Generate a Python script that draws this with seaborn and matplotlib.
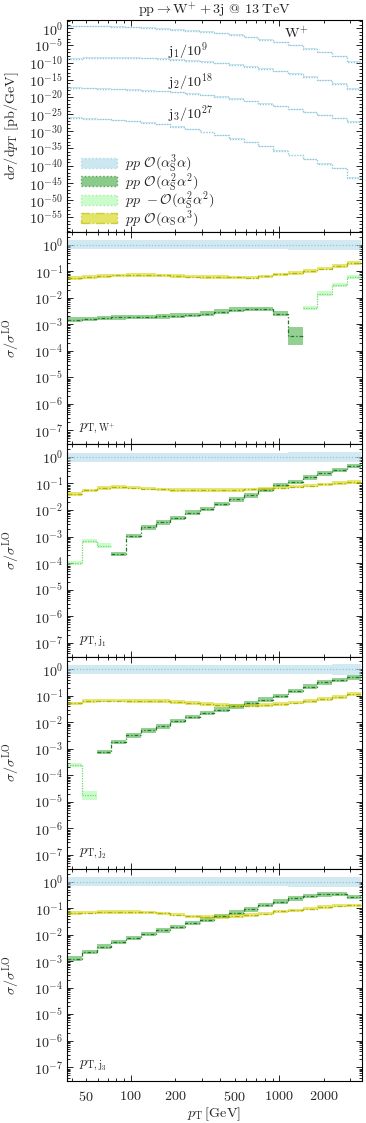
import numpy as np
import pandas as pd
import matplotlib
matplotlib.use("Agg")
import matplotlib.pyplot as plt
import seaborn as sns
from matplotlib.patches import Patch
from matplotlib.ticker import FixedLocator, FuncFormatter, NullFormatter

# ---------------- data ----------------
pT_edges = [37.4, 47.0, 59.0, 74.1, 93.1, 117, 147, 185, 232, 291, 366, 459, 577,
            724, 910, 1143, 1435, 1803, 2265, 2844, 3573]

# top panel: d sigma / d pT [pb/GeV] (unscaled)
top_W = [3.8, 4.0, 3.6, 2.95, 2.14, 1.38, 0.79, 0.42, 0.20, 0.089, 0.035, 0.011, 2.5e-3,
         4.5e-4, 7.1e-5, 1.0e-5, 1.1e-6, 1.0e-7, 7.1e-9, 1.6e-10]
top_j1 = [1.5, 2.5, 2.95, 2.95, 2.6, 2.0, 1.32, 0.78, 0.39, 0.18, 0.071, 0.025, 7.1e-3,
          1.6e-3, 3.2e-4, 5.0e-5, 7.1e-6, 7.9e-7, 7.1e-8, 2.8e-9]
top_j2 = [4.5, 3.5, 2.5, 1.8, 1.26, 0.71, 0.40, 0.20, 0.089, 0.035, 0.011, 2.8e-3, 6.3e-4,
          1.1e-4, 1.8e-5, 2.5e-6, 3.5e-7, 5.0e-8, 6.3e-9, 5.6e-10]
top_j3 = [8.5, 5.2, 3.0, 1.6, 0.79, 0.32, 0.10, 0.025, 4.0e-3, 6.3e-4, 7.9e-5, 6.3e-6, 6.3e-7,
          4.0e-8, 2.5e-9, 1.26e-10, 6.3e-12, 4.0e-13, 1.6e-14, 3.2e-17]
top_scale = [1.0, 1e-9, 1e-18, 1e-27]
top_names = ["W", "j1", "j2", "j3"]

N = None
# ratio panels
lo_blue = [0.66, 0.66, 0.66, 0.66, 0.66, 0.66, 0.66, 0.66, 0.66, 0.66, 0.66, 0.66, 0.66,
           0.66, 0.66, 0.65, 0.65, 0.64, 0.63, 0.62]
hi_blue = [1.45, 1.45, 1.45, 1.45, 1.45, 1.45, 1.45, 1.45, 1.45, 1.45, 1.45, 1.45, 1.46,
           1.46, 1.47, 1.48, 1.49, 1.50, 1.52, 1.55]

yel_W = [0.055, 0.060, 0.065, 0.070, 0.072, 0.072, 0.070, 0.066, 0.063, 0.062, 0.060, 0.058,
         0.057, 0.064, 0.076, 0.085, 0.100, 0.125, 0.157, 0.200]
dg_W = [0.0015, 0.0016, 0.0017, 0.0018, 0.0019, 0.0019, 0.0020, 0.0021, 0.0022, 0.0025,
        0.0030, 0.0036, 0.0038, 0.0037, 0.0025, 0.00037, N, N, N, N]
lg_W = [N, N, N, N, N, N, N, N, N, N, N, N, N, N, N, N, 0.0041, 0.0144, 0.031, 0.060]

yel_j1 = [0.040, 0.055, 0.068, 0.072, 0.070, 0.064, 0.060, 0.058, 0.057, 0.057, 0.058, 0.058,
          0.060, 0.064, 0.070, 0.076, 0.083, 0.092, 0.103, 0.115]
dg_j1 = [N, N, N, 2.2e-4, 1.05e-3, 2.2e-3, 3.4e-3, 5.1e-3, 7.9e-3, 0.011, 0.017, 0.025,
         0.036, 0.056, 0.087, 0.112, 0.17, 0.24, 0.32, 0.45]
lg_j1 = [1.0e-4, 7.0e-4, 4.6e-4, N, N, N, N, N, N, N, N, N, N, N, N, N, N, N, N, N]

yel_j2 = [0.052, 0.065, 0.066, 0.066, 0.065, 0.064, 0.062, 0.058, 0.053, 0.049, 0.045, 0.043,
          0.043, 0.045, 0.049, 0.055, 0.063, 0.075, 0.092, 0.115]
dg_j2 = [N, N, 7.6e-4, 1.8e-3, 3.2e-3, 5.0e-3, 7.1e-3, 0.0112, 0.0158, 0.0224, 0.030, 0.040,
         0.052, 0.071, 0.10, 0.15, 0.22, 0.32, 0.40, 0.49]
lg_j2 = [2.5e-4, 1.8e-5, N, N, N, N, N, N, N, N, N, N, N, N, N, N, N, N, N, N]

yel_j3 = [0.066, 0.068, 0.070, 0.071, 0.071, 0.069, 0.063, 0.057, 0.049, 0.046, 0.047, 0.050,
          0.054, 0.062, 0.075, 0.082, 0.095, 0.110, 0.125, 0.127]
dg_j3 = [1.26e-3, 2.25e-3, 3.5e-3, 5.3e-3, 7.5e-3, 0.0104, 0.0146, 0.0195, 0.0276, 0.0367,
         0.050, 0.067, 0.090, 0.13, 0.175, 0.23, 0.29, 0.33, 0.34, 0.26]
lg_j3 = [N] * 20

# scale-uncertainty factors (band half-width, multiplicative)
unc_yel = 1.17
unc_dg = 1.22
unc_lg = 1.2
# bins whose bands are read individually: (panel, series, bin) -> (low, high)
band_override = {("W", "dg", 15): (1.7e-4, 8.0e-4),
                 ("j2", "lg", 1): (1.2e-5, 2.6e-5)}

panel_names = ["W", "j1", "j2", "j3"]
panel_labels = [r"$p_{\mathrm{T,W^{+}}}$", r"$p_{\mathrm{T,j_1}}$",
                r"$p_{\mathrm{T,j_2}}$", r"$p_{\mathrm{T,j_3}}$"]
ratio_data = {"W": (yel_W, dg_W, lg_W), "j1": (yel_j1, dg_j1, lg_j1),
              "j2": (yel_j2, dg_j2, lg_j2), "j3": (yel_j3, dg_j3, lg_j3)}

# ---------------- style ----------------
sns.set_theme(style="ticks")
plt.rcParams["font.family"] = ["cmr10", "DejaVu Serif"]
plt.rcParams["mathtext.fontset"] = "cm"
plt.rcParams["axes.formatter.use_mathtext"] = True
plt.rcParams["axes.unicode_minus"] = False
FS = 10.2

c_blue_band, c_blue_line = "#add8e6", "#8ec8db"
c_dg_band, c_dg_line = "#3da83d", "#1f7a1f"
c_lg_band, c_lg_line = "#98fb98", "#6fd86f"
c_y_band, c_y_line = "#d2d200", "#b4b400"
ls_dg = (0, (3.0, 1.6, 1.0, 1.6))
ls_y = (0, (4.0, 1.6, 1.0, 1.6))

W_PX, H_PX = 366, 1123
fig = plt.figure(figsize=(W_PX / 100, H_PX / 100), dpi=100)
left_px, right_px = 67.3, 361.5
top_px, ph = 19.7, 212.3

def add_panel(k):
    t = top_px + ph * k
    return fig.add_axes([left_px / W_PX, 1 - (t + ph) / H_PX,
                         (right_px - left_px) / W_PX, ph / H_PX])

edges = np.array(pT_edges, float)

def style_axes(ax, show_x):
    ax.set_xscale("log")
    ax.set_yscale("log")
    ax.set_xlim(edges[0], edges[-1])
    for s in ax.spines.values():
        s.set_linewidth(0.8)
        s.set_color("black")
    ax.tick_params(which="both", direction="in", top=True, right=True,
                   color="black", width=0.6, labelsize=FS)
    ax.tick_params(which="major", length=4.5)
    ax.tick_params(which="minor", length=2.3)
    ax.xaxis.set_major_locator(FixedLocator([100, 1000]))
    ax.xaxis.set_minor_locator(FixedLocator([40, 50, 60, 70, 80, 90, 200, 300, 400, 500,
                                             600, 700, 800, 900, 2000, 3000]))
    if show_x:
        lab = {50, 100, 200, 500, 1000, 2000}
        f = FuncFormatter(lambda v, p: (r"$%d$" % round(v)) if round(v) in lab else "")
        ax.xaxis.set_major_formatter(f)
        ax.xaxis.set_minor_formatter(f)
        ax.tick_params(axis="x", which="both", pad=6)
    else:
        ax.xaxis.set_major_formatter(NullFormatter())
        ax.xaxis.set_minor_formatter(NullFormatter())
    ax.tick_params(axis="y", which="both", pad=3)
    ax.grid(False)

def segments(vals):
    v = [np.nan if x is None else float(x) for x in vals]
    out, i, n = [], 0, len(v)
    while i < n:
        if np.isnan(v[i]):
            i += 1
            continue
        j = i
        while j < n and not np.isnan(v[j]):
            j += 1
        out.append((i, j))
        i = j
    return v, out

def draw_series(ax, vals, lo, hi, band_c, band_a, line_c, ls, lw, draw_line=True):
    v, segs = segments(vals)
    for i, j in segs:
        xs = edges[i:j + 1]
        ys = v[i:j] + [v[j - 1]]
        l = list(lo[i:j]) + [lo[j - 1]]
        h = list(hi[i:j]) + [hi[j - 1]]
        ax.fill_between(xs, l, h, step="post", color=band_c, alpha=band_a, lw=0)
        if draw_line:
            sns.lineplot(x=xs, y=ys, ax=ax, color=line_c, linestyle=ls, lw=lw,
                         drawstyle="steps-post", estimator=None, sort=False, legend=False)

def bands(name, key, vals, unc):
    lo, hi = [], []
    for b, x in enumerate(vals):
        if x is None:
            lo.append(np.nan); hi.append(np.nan)
        elif (name, key, b) in band_override:
            a, c = band_override[(name, key, b)]
            lo.append(a); hi.append(c)
        else:
            lo.append(x / unc); hi.append(x * unc)
    return lo, hi

YLAB_X = -0.150

# ---------------- top panel ----------------
ax0 = add_panel(0)
style_axes(ax0, False)
rows = []
for nm, vals, sc in zip(top_names, [top_W, top_j1, top_j2, top_j3], top_scale):
    ext = list(vals) + [vals[-1]]
    for x, y in zip(edges, ext):
        rows.append({"pT": x, "val": y * sc, "curve": nm})
df_top = pd.DataFrame(rows)
for nm in top_names:
    sub = df_top[df_top.curve == nm]
    ax0.fill_between(sub.pT, sub.val / 1.35, sub.val * 1.35, step="post",
                     color=c_blue_band, alpha=0.6, lw=0)
sns.lineplot(data=df_top, x="pT", y="val", hue="curve", units="curve",
             palette=[c_blue_line] * 4, estimator=None, sort=False, legend=False,
             drawstyle="steps-post", lw=1.0, linestyle=(0, (1, 1)), ax=ax0)
ax0.set_ylim(5e-60, 3e2)
ax0.yaxis.set_major_locator(FixedLocator([10.0 ** e for e in range(-55, 1, 5)]))
ax0.yaxis.set_minor_locator(FixedLocator([10.0 ** e for e in range(-59, 3)]))
ax0.yaxis.set_major_formatter(FuncFormatter(lambda v, p: r"$10^{%d}$" % round(np.log10(v))))
ax0.yaxis.set_minor_formatter(NullFormatter())
ax0.set_xlabel("")
ax0.set_ylabel(r"$\mathrm{d}\sigma/\mathrm{d}p_{\mathrm{T}}\;[\mathrm{pb/GeV}]$", fontsize=FS)
ax0.yaxis.set_label_coords(YLAB_X - 0.008, 0.5)
ax0.set_title(r"$\mathrm{pp}\rightarrow\mathrm{W}^{+}+3\mathrm{j}$ @ $13\;\mathrm{TeV}$",
              fontsize=FS, pad=4)
tkw = dict(transform=ax0.transAxes, fontsize=FS, va="center", ha="left", color="#222222")
ax0.text(0.737, 0.937, r"$\mathrm{W}^{+}$", **tkw)
ax0.text(0.341, 0.848, r"$\mathrm{j}_1/10^{9}$", **tkw)
ax0.text(0.341, 0.700, r"$\mathrm{j}_2/10^{18}$", **tkw)
ax0.text(0.341, 0.550, r"$\mathrm{j}_3/10^{27}$", **tkw)

handles = [
    Patch(facecolor=c_blue_band, alpha=0.6, edgecolor=c_blue_line, linestyle=":", lw=1.0),
    Patch(facecolor=c_dg_band, alpha=0.6, edgecolor=c_dg_line, linestyle=":", lw=1.0),
    Patch(facecolor=c_lg_band, alpha=0.5, edgecolor=c_lg_line, linestyle=":", lw=1.0),
    Patch(facecolor=c_y_band, alpha=0.6, edgecolor=c_y_line, linestyle="-.", lw=1.0),
]
labels = [r"$pp\ \mathcal{O}(\alpha_{\mathrm{S}}^{3}\alpha)$",
          r"$pp\ \mathcal{O}(\alpha_{\mathrm{S}}^{2}\alpha^{2})$",
          r"$pp\ -\mathcal{O}(\alpha_{\mathrm{S}}^{2}\alpha^{2})$",
          r"$pp\ \mathcal{O}(\alpha_{\mathrm{S}}\alpha^{3})$"]
ax0.legend(handles, labels, loc="lower left", bbox_to_anchor=(0.045, 0.01),
           frameon=False, fontsize=FS, handlelength=2.55, handleheight=0.72,
           handletextpad=0.6, labelspacing=-0.28, borderaxespad=0, borderpad=0)

# ---------------- ratio panels ----------------
for k, (nm, plab) in enumerate(zip(panel_names, panel_labels)):
    ax = add_panel(k + 1)
    last = (k == 3)
    style_axes(ax, last)
    yel, dg, lg = ratio_data[nm]
    ones = [1.0] * len(lo_blue)
    draw_series(ax, ones, lo_blue, hi_blue, c_blue_band, 0.55, c_blue_line, (0, (1, 1.5)), 0.9)
    l, h = bands(nm, "lg", lg, unc_lg)
    draw_series(ax, lg, l, h, c_lg_band, 0.5, c_lg_line, (0, (1, 1)), 0.9)
    l, h = bands(nm, "dg", dg, unc_dg)
    draw_series(ax, dg, l, h, c_dg_band, 0.55, c_dg_line, ls_dg, 0.9)
    l, h = bands(nm, "y", yel, unc_yel)
    draw_series(ax, yel, l, h, c_y_band, 0.55, c_y_line, ls_y, 0.9)
    ax.set_ylim(3e-8, 3)
    ax.yaxis.set_major_locator(FixedLocator([10.0 ** e for e in range(-7, 1)]))
    ax.yaxis.set_minor_locator(FixedLocator([m * 10.0 ** e for e in range(-8, 1)
                                             for m in range(2, 10)]))
    ax.yaxis.set_major_formatter(FuncFormatter(lambda v, p: r"$10^{%d}$" % round(np.log10(v))))
    ax.yaxis.set_minor_formatter(NullFormatter())
    ax.set_ylabel(r"$\sigma/\sigma^{\mathrm{LO}}$", fontsize=FS)
    ax.yaxis.set_label_coords(YLAB_X, 0.5)
    ax.text(0.04, 0.072, plab, transform=ax.transAxes, fontsize=FS, va="center",
            ha="left", color="#222222")
    if last:
        ax.set_xlabel(r"$p_{\mathrm{T}}\,[\mathrm{GeV}]$", fontsize=FS, labelpad=1.5)
    else:
        ax.set_xlabel("")

fig.savefig("out.png", dpi=100)
